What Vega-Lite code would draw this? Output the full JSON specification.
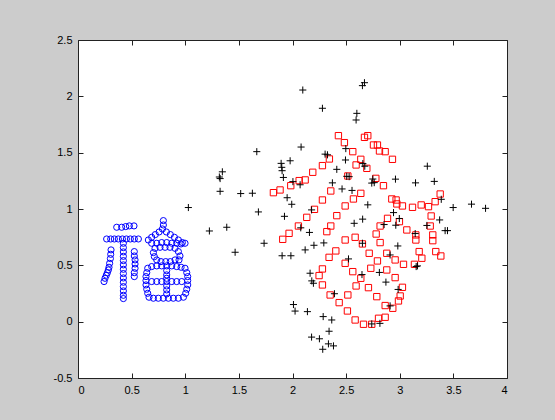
{
  "$schema": "https://vega.github.io/schema/vega-lite/v6.json",
  "width": 429,
  "height": 338,
  "autosize": {"type": "none"},
  "padding": {"left": 78, "top": 40, "right": 48, "bottom": 42},
  "background": "#cccccc",
  "config": {
    "view": {"fill": "white", "stroke": "#222222", "strokeWidth": 1},
    "axis": {
      "domain": false,
      "grid": false,
      "title": null,
      "tickColor": "#222222",
      "tickSize": -5,
      "labelFont": "Liberation Sans",
      "labelFontSize": 11,
      "labelColor": "#000000",
      "labelPadding": 11,
      "labelExpr": "'' + datum.value"
    }
  },
  "datasets": {
    "circles": [
      {"x": 0.361, "y": 0.838}, {"x": 0.407, "y": 0.838}, {"x": 0.445, "y": 0.844}, {"x": 0.479, "y": 0.85}, {"x": 0.522, "y": 0.85},
      {"x": 0.267, "y": 0.734}, {"x": 0.305, "y": 0.734}, {"x": 0.339, "y": 0.734}, {"x": 0.376, "y": 0.734}, {"x": 0.414, "y": 0.734},
      {"x": 0.451, "y": 0.734}, {"x": 0.488, "y": 0.734}, {"x": 0.525, "y": 0.734}, {"x": 0.563, "y": 0.734},
      {"x": 0.423, "y": 0.696}, {"x": 0.423, "y": 0.657}, {"x": 0.423, "y": 0.619}, {"x": 0.423, "y": 0.58}, {"x": 0.423, "y": 0.542},
      {"x": 0.423, "y": 0.504}, {"x": 0.423, "y": 0.465}, {"x": 0.423, "y": 0.427}, {"x": 0.423, "y": 0.388}, {"x": 0.423, "y": 0.35},
      {"x": 0.423, "y": 0.311}, {"x": 0.423, "y": 0.273}, {"x": 0.423, "y": 0.234}, {"x": 0.423, "y": 0.205},
      {"x": 0.308, "y": 0.637}, {"x": 0.305, "y": 0.598}, {"x": 0.302, "y": 0.56}, {"x": 0.295, "y": 0.518}, {"x": 0.289, "y": 0.483},
      {"x": 0.283, "y": 0.459}, {"x": 0.274, "y": 0.435}, {"x": 0.264, "y": 0.412}, {"x": 0.252, "y": 0.385}, {"x": 0.243, "y": 0.356},
      {"x": 0.525, "y": 0.622}, {"x": 0.525, "y": 0.583}, {"x": 0.532, "y": 0.548}, {"x": 0.532, "y": 0.512}, {"x": 0.532, "y": 0.474},
      {"x": 0.525, "y": 0.435}, {"x": 0.525, "y": 0.4},
      {"x": 0.796, "y": 0.897}, {"x": 0.796, "y": 0.858}, {"x": 0.787, "y": 0.823},
      {"x": 0.756, "y": 0.796}, {"x": 0.721, "y": 0.773}, {"x": 0.687, "y": 0.749}, {"x": 0.656, "y": 0.725},
      {"x": 0.824, "y": 0.796}, {"x": 0.861, "y": 0.773}, {"x": 0.899, "y": 0.749}, {"x": 0.936, "y": 0.725}, {"x": 0.973, "y": 0.702},
      {"x": 0.687, "y": 0.696}, {"x": 0.734, "y": 0.696}, {"x": 0.78, "y": 0.702}, {"x": 0.827, "y": 0.702}, {"x": 0.874, "y": 0.696},
      {"x": 0.92, "y": 0.696}, {"x": 0.961, "y": 0.69}, {"x": 0.998, "y": 0.696},
      {"x": 0.718, "y": 0.651}, {"x": 0.765, "y": 0.66}, {"x": 0.812, "y": 0.66}, {"x": 0.858, "y": 0.66}, {"x": 0.905, "y": 0.651},
      {"x": 0.703, "y": 0.613}, {"x": 0.712, "y": 0.577}, {"x": 0.936, "y": 0.622}, {"x": 0.951, "y": 0.583},
      {"x": 0.734, "y": 0.548}, {"x": 0.774, "y": 0.533}, {"x": 0.818, "y": 0.533}, {"x": 0.861, "y": 0.533}, {"x": 0.905, "y": 0.548}, {"x": 0.942, "y": 0.548},
      {"x": 0.65, "y": 0.474}, {"x": 0.641, "y": 0.435}, {"x": 0.634, "y": 0.4}, {"x": 0.634, "y": 0.365}, {"x": 0.634, "y": 0.326},
      {"x": 0.641, "y": 0.288}, {"x": 0.65, "y": 0.252}, {"x": 0.662, "y": 0.217},
      {"x": 0.998, "y": 0.474}, {"x": 1.014, "y": 0.435}, {"x": 1.023, "y": 0.4}, {"x": 1.023, "y": 0.365}, {"x": 1.023, "y": 0.326},
      {"x": 1.014, "y": 0.288}, {"x": 1.004, "y": 0.252}, {"x": 0.983, "y": 0.217},
      {"x": 0.687, "y": 0.489}, {"x": 0.734, "y": 0.495}, {"x": 0.78, "y": 0.495}, {"x": 0.827, "y": 0.495}, {"x": 0.874, "y": 0.495},
      {"x": 0.92, "y": 0.489}, {"x": 0.961, "y": 0.483},
      {"x": 0.687, "y": 0.356}, {"x": 0.734, "y": 0.356}, {"x": 0.78, "y": 0.356}, {"x": 0.827, "y": 0.356}, {"x": 0.874, "y": 0.356},
      {"x": 0.92, "y": 0.356}, {"x": 0.967, "y": 0.356},
      {"x": 0.827, "y": 0.453}, {"x": 0.827, "y": 0.415}, {"x": 0.827, "y": 0.385}, {"x": 0.827, "y": 0.317}, {"x": 0.827, "y": 0.282}, {"x": 0.827, "y": 0.246},
      {"x": 0.703, "y": 0.208}, {"x": 0.749, "y": 0.208}, {"x": 0.796, "y": 0.208}, {"x": 0.843, "y": 0.208}, {"x": 0.889, "y": 0.208}, {"x": 0.936, "y": 0.208}
    ],
    "squares": [
      {"x": 2.428, "y": 1.651}, {"x": 2.702, "y": 1.651}, {"x": 2.671, "y": 1.636}, {"x": 2.484, "y": 1.589}, {"x": 2.755, "y": 1.568},
      {"x": 2.792, "y": 1.568}, {"x": 2.811, "y": 1.515}, {"x": 2.864, "y": 1.509}, {"x": 2.562, "y": 1.509}, {"x": 2.932, "y": 1.441},
      {"x": 2.637, "y": 1.441}, {"x": 2.344, "y": 1.444}, {"x": 2.279, "y": 1.385}, {"x": 2.593, "y": 1.391}, {"x": 2.693, "y": 1.361},
      {"x": 2.189, "y": 1.326}, {"x": 2.516, "y": 1.293}, {"x": 2.777, "y": 1.272}, {"x": 2.118, "y": 1.258}, {"x": 2.062, "y": 1.252},
      {"x": 1.984, "y": 1.207}, {"x": 1.884, "y": 1.169}, {"x": 1.822, "y": 1.145}, {"x": 2.848, "y": 1.207}, {"x": 2.357, "y": 1.16},
      {"x": 2.637, "y": 1.139}, {"x": 2.568, "y": 1.089}, {"x": 2.279, "y": 1.08}, {"x": 2.926, "y": 1.089}, {"x": 2.966, "y": 1.08},
      {"x": 2.973, "y": 1.045}, {"x": 3.025, "y": 1.027}, {"x": 3.119, "y": 1.015}, {"x": 3.2, "y": 1.036}, {"x": 3.268, "y": 1.021},
      {"x": 3.33, "y": 1.065}, {"x": 3.377, "y": 1.133}, {"x": 2.491, "y": 1.027}, {"x": 2.205, "y": 0.997}, {"x": 2.413, "y": 0.941},
      {"x": 2.133, "y": 0.926}, {"x": 2.886, "y": 0.917}, {"x": 3.293, "y": 0.938}, {"x": 2.997, "y": 0.888}, {"x": 2.357, "y": 0.849},
      {"x": 2.055, "y": 0.849}, {"x": 2.817, "y": 0.849}, {"x": 3.066, "y": 0.814}, {"x": 3.284, "y": 0.849}, {"x": 2.32, "y": 0.799},
      {"x": 1.968, "y": 0.784}, {"x": 1.909, "y": 0.731}, {"x": 2.78, "y": 0.778}, {"x": 3.15, "y": 0.77}, {"x": 3.15, "y": 0.725},
      {"x": 3.308, "y": 0.77}, {"x": 3.308, "y": 0.719}, {"x": 2.584, "y": 0.749}, {"x": 2.491, "y": 0.725}, {"x": 2.817, "y": 0.702},
      {"x": 2.652, "y": 0.69}, {"x": 2.404, "y": 0.628}, {"x": 2.715, "y": 0.607}, {"x": 2.879, "y": 0.607}, {"x": 3.181, "y": 0.622},
      {"x": 3.336, "y": 0.622}, {"x": 3.383, "y": 0.583}, {"x": 2.341, "y": 0.571}, {"x": 2.957, "y": 0.548}, {"x": 2.792, "y": 0.539},
      {"x": 2.491, "y": 0.518}, {"x": 3.035, "y": 0.509}, {"x": 3.137, "y": 0.509}, {"x": 3.206, "y": 0.563}, {"x": 2.279, "y": 0.468},
      {"x": 2.73, "y": 0.474}, {"x": 2.879, "y": 0.459}, {"x": 2.562, "y": 0.444}, {"x": 2.248, "y": 0.409}, {"x": 2.637, "y": 0.385},
      {"x": 2.957, "y": 0.391}, {"x": 2.279, "y": 0.326}, {"x": 2.593, "y": 0.317}, {"x": 2.708, "y": 0.302}, {"x": 3.025, "y": 0.305},
      {"x": 2.351, "y": 0.237}, {"x": 2.516, "y": 0.237}, {"x": 2.786, "y": 0.222}, {"x": 3.004, "y": 0.228}, {"x": 2.988, "y": 0.184},
      {"x": 2.435, "y": 0.169}, {"x": 2.864, "y": 0.143}, {"x": 2.935, "y": 0.119}, {"x": 2.512, "y": 0.095}, {"x": 2.584, "y": 0.015},
      {"x": 2.662, "y": -0.023}, {"x": 2.739, "y": -0.023}, {"x": 2.802, "y": 0.03}, {"x": 2.864, "y": 0.039}
    ],
    "pluses": [
      {"x": 2.096, "y": 2.056}, {"x": 2.671, "y": 2.121}, {"x": 2.652, "y": 2.095}, {"x": 2.279, "y": 1.894}, {"x": 2.6, "y": 1.849},
      {"x": 2.593, "y": 1.79}, {"x": 1.667, "y": 1.509}, {"x": 2.08, "y": 1.55}, {"x": 2.304, "y": 1.487}, {"x": 2.326, "y": 1.481},
      {"x": 2.497, "y": 1.536}, {"x": 1.978, "y": 1.428}, {"x": 1.894, "y": 1.405}, {"x": 1.9, "y": 1.37}, {"x": 1.903, "y": 1.34},
      {"x": 1.915, "y": 1.28}, {"x": 1.346, "y": 1.33}, {"x": 1.318, "y": 1.284}, {"x": 1.325, "y": 1.27}, {"x": 2.494, "y": 1.435},
      {"x": 2.413, "y": 1.352}, {"x": 2.506, "y": 1.29}, {"x": 2.528, "y": 1.287}, {"x": 2.004, "y": 1.243}, {"x": 2.071, "y": 1.215},
      {"x": 2.372, "y": 1.232}, {"x": 2.462, "y": 1.178}, {"x": 2.555, "y": 1.165}, {"x": 2.749, "y": 1.266}, {"x": 2.739, "y": 1.23},
      {"x": 2.762, "y": 1.234}, {"x": 2.656, "y": 1.403}, {"x": 2.674, "y": 1.38}, {"x": 1.325, "y": 1.157}, {"x": 1.517, "y": 1.137},
      {"x": 1.626, "y": 1.14}, {"x": 1.95, "y": 1.1}, {"x": 1.993, "y": 1.042}, {"x": 2.178, "y": 0.992}, {"x": 2.702, "y": 1.037},
      {"x": 1.029, "y": 1.013}, {"x": 1.682, "y": 0.974}, {"x": 1.925, "y": 0.935}, {"x": 2.654, "y": 0.91}, {"x": 2.575, "y": 0.873},
      {"x": 1.387, "y": 0.838}, {"x": 1.225, "y": 0.805}, {"x": 2.077, "y": 0.833}, {"x": 2.158, "y": 0.792}, {"x": 1.735, "y": 0.696},
      {"x": 2.292, "y": 0.699}, {"x": 2.2, "y": 0.678}, {"x": 2.652, "y": 0.696}, {"x": 1.465, "y": 0.616}, {"x": 1.903, "y": 0.585},
      {"x": 1.985, "y": 0.585}, {"x": 2.118, "y": 0.637}, {"x": 2.854, "y": 0.862}, {"x": 2.963, "y": 0.856}, {"x": 2.982, "y": 0.672},
      {"x": 2.522, "y": 0.557}, {"x": 2.648, "y": 0.418}, {"x": 2.81, "y": 0.437}, {"x": 2.871, "y": 0.351}, {"x": 2.985, "y": 0.286},
      {"x": 2.91, "y": 0.14}, {"x": 2.164, "y": 0.43}, {"x": 2.18, "y": 0.362}, {"x": 2.195, "y": 0.341}, {"x": 2.391, "y": 0.248},
      {"x": 2.009, "y": 0.152}, {"x": 2.024, "y": 0.094}, {"x": 2.139, "y": 0.089}, {"x": 2.286, "y": 0.045}, {"x": 2.366, "y": 0.015},
      {"x": 2.341, "y": -0.085}, {"x": 2.178, "y": -0.137}, {"x": 2.251, "y": -0.152}, {"x": 2.335, "y": -0.197}, {"x": 2.382, "y": -0.215},
      {"x": 2.282, "y": -0.245}, {"x": 2.739, "y": -0.02}, {"x": 2.815, "y": -0.015}, {"x": 2.96, "y": 1.265}, {"x": 3.147, "y": 1.232},
      {"x": 3.322, "y": 1.245}, {"x": 3.257, "y": 1.38}, {"x": 3.387, "y": 1.086}, {"x": 3.498, "y": 1.013}, {"x": 3.669, "y": 1.043},
      {"x": 3.8, "y": 1.006}, {"x": 3.372, "y": 0.903}, {"x": 3.423, "y": 0.808}, {"x": 3.445, "y": 0.808}, {"x": 3.253, "y": 0.854},
      {"x": 3.144, "y": 0.782}, {"x": 3.153, "y": 0.489}, {"x": 3.165, "y": 0.495}, {"x": 2.942, "y": 0.968}, {"x": 2.996, "y": 0.915},
      {"x": 2.91, "y": 0.592}
    ]
  },
  "layer": [
    {
      "data": {"name": "circles"},
      "mark": {"type": "point", "shape": "circle", "filled": false, "stroke": "#0000ff", "strokeWidth": 1, "opacity": 1, "size": 38},
      "encoding": {
        "x": {"field": "x", "type": "quantitative", "scale": {"domain": [0, 4], "nice": false, "zero": false},
              "axis": {"orient": "bottom", "values": [0, 0.5, 1, 1.5, 2, 2.5, 3, 3.5, 4]}},
        "y": {"field": "y", "type": "quantitative", "scale": {"domain": [-0.5, 2.5], "nice": false, "zero": false},
              "axis": {"orient": "left", "values": [-0.5, 0, 0.5, 1, 1.5, 2, 2.5]}}
      }
    },
    {
      "data": {"name": "squares"},
      "mark": {"type": "point", "shape": "square", "filled": false, "stroke": "#ff0000", "strokeWidth": 1, "opacity": 1, "size": 40},
      "encoding": {
        "x": {"field": "x", "type": "quantitative", "scale": {"domain": [0, 4], "nice": false, "zero": false},
              "axis": {"orient": "top", "labels": false, "values": [0, 0.5, 1, 1.5, 2, 2.5, 3, 3.5, 4]}},
        "y": {"field": "y", "type": "quantitative", "scale": {"domain": [-0.5, 2.5], "nice": false, "zero": false},
              "axis": {"orient": "right", "labels": false, "values": [-0.5, 0, 0.5, 1, 1.5, 2, 2.5]}}
      }
    },
    {
      "data": {"name": "pluses"},
      "mark": {"type": "point", "shape": "M-1,0H1M0,-1V1", "filled": false, "stroke": "#000000", "strokeWidth": 1, "opacity": 1, "size": 50},
      "encoding": {
        "x": {"field": "x", "type": "quantitative", "scale": {"domain": [0, 4], "nice": false, "zero": false}, "axis": null},
        "y": {"field": "y", "type": "quantitative", "scale": {"domain": [-0.5, 2.5], "nice": false, "zero": false}, "axis": null}
      }
    }
  ],
  "resolve": {"axis": {"x": "independent", "y": "independent"}}
}
